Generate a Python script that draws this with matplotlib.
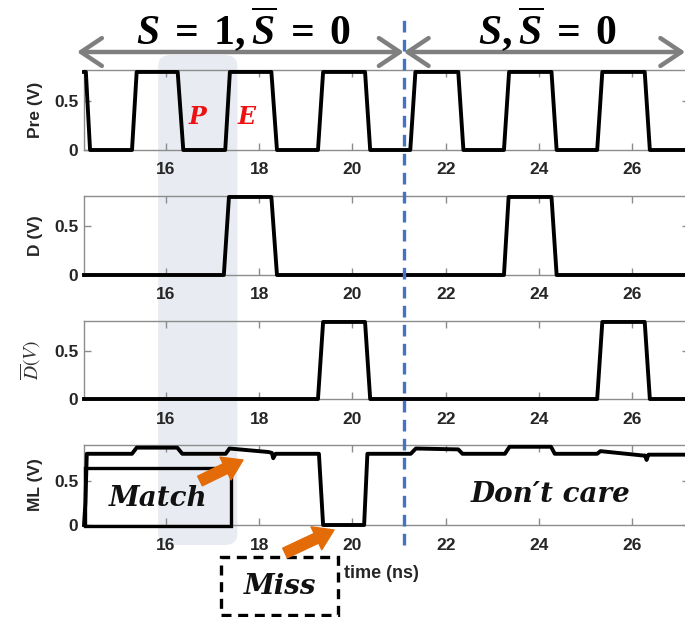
import matplotlib.pyplot as plt
import matplotlib.patches as mpatches
from matplotlib.lines import Line2D
from matplotlib.transforms import blended_transform_factory

W, H = 685, 617

# waveforms: breakpoints (time in ns, voltage in V)
pre_t = [14.24, 14.28, 14.37, 15.27, 15.37, 16.25, 16.37, 17.27, 17.37, 18.26, 18.38,
         19.26, 19.37, 20.27, 20.38, 21.24, 21.35, 22.27, 22.38, 23.25, 23.36,
         24.27, 24.38, 25.25, 25.36, 26.27, 26.38, 27.3]
pre_v = [0.8, 0.8, 0, 0, 0.8, 0.8, 0, 0, 0.8, 0.8, 0,
         0, 0.8, 0.8, 0, 0, 0.8, 0.8, 0, 0, 0.8,
         0.8, 0, 0, 0.8, 0.8, 0, 0]

d_t = [14.24, 17.24, 17.35, 18.26, 18.38, 23.25, 23.35, 24.27, 24.38, 27.3]
d_v = [0, 0, 0.8, 0.8, 0, 0, 0.8, 0.8, 0, 0]

dbar_t = [14.24, 19.26, 19.37, 20.27, 20.38, 25.25, 25.36, 26.27, 26.38, 27.3]
dbar_v = [0, 0, 0.8, 0.8, 0, 0, 0.8, 0.8, 0, 0]

ml_t = [14.24, 14.27, 14.30, 15.27, 15.37, 16.24, 16.35, 17.28, 17.36, 18.20, 18.27,
        18.30, 18.35, 19.28, 19.37, 20.25, 20.32, 21.25, 21.36, 22.27, 22.36,
        23.27, 23.37, 24.26, 24.34, 25.25, 25.32, 26.24, 26.28, 26.31, 26.35, 27.3]
ml_v = [0.0, 0.25, 0.81, 0.81, 0.88, 0.88, 0.81, 0.81, 0.87, 0.83, 0.82,
        0.76, 0.81, 0.81, 0.0, 0.0, 0.81, 0.81, 0.87, 0.86, 0.81,
        0.81, 0.89, 0.89, 0.81, 0.81, 0.84, 0.79, 0.79, 0.74, 0.80, 0.80]

signals = [(pre_t, pre_v), (d_t, d_v), (dbar_t, dbar_v), (ml_t, ml_v)]
ylabels = ['Pre (V)', 'D (V)', r'$\overline{D}(V)$', 'ML (V)']
ytops = [0.82, 0.81, 0.81, 0.91]
xticks = [16, 18, 20, 22, 24, 26]
yticks = [0, 0.5]
xlim = (14.24, 27.22)

shade_t = (15.83, 17.53)   # P/E window
split_t = 21.1             # S change

plt.rcParams['mathtext.fontset'] = 'custom'
plt.rcParams['mathtext.rm'] = 'Liberation Serif:bold'
plt.rcParams['mathtext.it'] = 'Liberation Serif:italic:bold'
plt.rcParams['mathtext.bf'] = 'Liberation Serif:bold'

fig = plt.figure(figsize=(W / 100, H / 100), dpi=100)

def fx(x):
    return x / W

def fy(y):
    return 1 - y / H

# panel boxes in pixels (top, bottom)
boxes = [(70, 150), (196, 275), (321, 399), (445, 525)]
axes = []
for i, (top, bot) in enumerate(boxes):
    ax = fig.add_axes([fx(84), fy(bot), (689 - 84) / W, (bot - top) / H])
    ax.set_facecolor('none')
    t, v = signals[i]
    ax.plot(t, v, color='black', lw=2.8, clip_on=False, zorder=3)
    ax.set_xlim(xlim)
    ax.set_ylim(0, ytops[i])
    ax.set_xticks(xticks)
    ax.set_yticks(yticks)
    ax.set_yticklabels(['0', '0.5'])
    ax.tick_params(direction='in', top=True, right=True, length=5, width=1,
                   color='#8c8c8c', labelcolor='#262626', labelsize=12.5, pad=4)
    ax.tick_params(axis='x', pad=9)
    for lab in ax.get_xticklabels() + ax.get_yticklabels():
        lab.set_fontweight('bold')
        lab.set_family('Liberation Sans')
    for sp in ax.spines.values():
        sp.set_color('#8c8c8c')
        sp.set_linewidth(1)
    if i == 2:
        ax.set_ylabel(ylabels[i], fontsize=14, color='#333333', math_fontfamily='stix')
    else:
        ax.set_ylabel(ylabels[i], fontsize=12.5, fontweight='bold', color='#262626',
                      family='Liberation Sans')
    ax.yaxis.set_label_coords(-0.068, 0.5)
    axes.append(ax)

ax1, ax4 = axes[0], axes[3]
ax4.set_xlabel('time (ns)', fontsize=13, fontweight='bold', color='#262626',
               family='Liberation Sans')
ax4.xaxis.set_label_coords(0.492, -0.5)

# shaded P/E window behind the panels
inv = fig.transFigure.inverted()
x0 = inv.transform(ax1.transData.transform((shade_t[0], 0)))[0]
x1 = inv.transform(ax1.transData.transform((shade_t[1], 0)))[0]
shade = mpatches.FancyBboxPatch((x0, fy(545)), x1 - x0, fy(55) - fy(545),
                                boxstyle='round,pad=0,rounding_size=0.018',
                                transform=fig.transFigure, fc='#e8ecf2', ec='none',
                                zorder=-1)
fig.patches.append(shade)

# blue dashed divider
tr = blended_transform_factory(ax4.transData, fig.transFigure)
fig.add_artist(Line2D([split_t, split_t], [fy(545), fy(18)], transform=tr,
                      color='#4472c4', lw=2.4, linestyle=(0, (3.5, 2.2)), zorder=5))

# gray span arrows and headers
for xa, xb in [(14.09, split_t), (split_t, 27.14)]:
    ax1.annotate('', xy=(xa, fy(52)), xytext=(xb, fy(52)),
                 xycoords=('data', 'figure fraction'), textcoords=('data', 'figure fraction'),
                 annotation_clip=False,
                 arrowprops=dict(arrowstyle='<->,head_length=0.75,head_width=0.5',
                                 mutation_scale=20, color='#7f7f7f', lw=3.2,
                                 shrinkA=0, shrinkB=0))
ax1.annotate(r'$S\;=\;1,\overline{S}\;=\;0$', xy=(17.65, fy(29)),
             xycoords=('data', 'figure fraction'), ha='center', va='center',
             fontsize=30, annotation_clip=False)
ax1.annotate(r'$S,\overline{S}\;=\;0$', xy=(24.18, fy(29)),
             xycoords=('data', 'figure fraction'), ha='center', va='center',
             fontsize=30, annotation_clip=False)

serif = ['DejaVu Serif', 'Liberation Serif']
ax1.text(16.67, 0.34, 'P', color='#ee1111', fontsize=17, fontweight='bold',
         style='italic', family=serif, ha='center', va='center')
ax1.text(17.72, 0.34, 'E', color='#ee1111', fontsize=17, fontweight='bold',
         style='italic', family=serif, ha='center', va='center')

# Match / Miss / Don't care annotations
fig.patches.append(mpatches.Rectangle((fx(85), fy(526)), (231 - 85) / W, (526 - 468) / H,
                                      transform=fig.transFigure, fill=False, ec='black',
                                      lw=2.4, zorder=6))
fig.text(fx(158), fy(498), 'Match', fontsize=20, fontweight='bold', style='italic',
         family=serif, ha='center', va='center', color='#111111')
fig.patches.append(mpatches.Rectangle((fx(221), fy(615)), (338 - 221) / W, (615 - 557) / H,
                                      transform=fig.transFigure, fill=False, ec='black',
                                      lw=2.4, linestyle=(0, (3, 2)), zorder=6))
fig.text(fx(280), fy(587), 'Miss', fontsize=20, fontweight='bold', style='italic',
         family=serif, ha='center', va='center', color='#111111')
ax4.text(24.24, 0.35, 'Don\u2032t care', fontsize=20, fontweight='bold', style='italic',
         family=serif, ha='center', va='center', color='#111111')

for (xa, ya), (xb, yb) in [((200, 481), (243, 460)), ((285, 553), (334, 530))]:
    fig.add_artist(mpatches.FancyArrowPatch((fx(xa), fy(ya)), (fx(xb), fy(yb)),
                                            transform=fig.transFigure,
                                            arrowstyle='simple,head_length=1.0,head_width=1.3,tail_width=0.55',
                                            mutation_scale=14, color='#e36c09',
                                            shrinkA=0, shrinkB=0, zorder=7))

fig.savefig('out.png', dpi=100)
